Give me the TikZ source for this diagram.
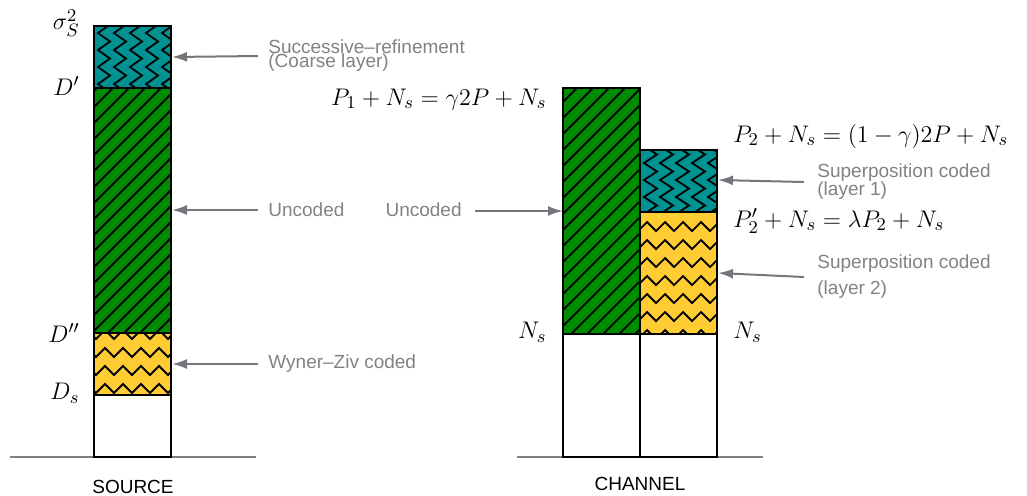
\documentclass[tikz,border=0pt]{standalone}
\usepackage{fontspec}
\newfontfamily\notefont{Liberation Sans}
\usetikzlibrary{arrows.meta}
\definecolor{hatchgreen}{RGB}{0,140,0}
\definecolor{layerteal}{RGB}{0,146,146}
\definecolor{layeryellow}{RGB}{255,204,51}
\definecolor{pointergray}{RGB}{120,116,124}
\definecolor{notegray}{RGB}{130,130,130}
\begin{document}
\begin{tikzpicture}[x=0.5pt,y=-0.5pt,
    note/.style={font=\notefont\fontsize{9.5}{9}\selectfont, text=notegray, align=left, inner sep=0pt},
    title/.style={font=\notefont\fontsize{9.5}{10}\selectfont, inner sep=0pt},
    lvl/.style={font=\fontsize{13.2}{15}\selectfont, inner sep=0pt},
    pointer/.style={pointergray, line width=1pt, -{Latex[length=7.5pt,width=5pt]}},
    bar/.style={line width=1.2pt},
    hatch/.style={line width=0.9pt},
    ground/.style={gray, line width=0.6pt}]
\useasboundingbox (0,0) rectangle (1027,495);

% ground lines
\draw[ground] (10,457) -- (256,457);
\draw[ground] (517,457) -- (763,457);

% source: coarse layer
\fill[layerteal] (94,26) rectangle (171,88);
\begin{scope}
  \clip (94,26) rectangle (171,88);
  \foreach \x in {110,126,...,190}
    \draw[hatch] (\x,7.5) \foreach \k in {1,...,6} { -- ++(-12,8.5) -- ++(12,8.5) };
\end{scope}
% source: uncoded part
\fill[hatchgreen] (94,88) rectangle (171,333);
\begin{scope}
  \clip (94,88) rectangle (171,333);
  \foreach \x in {97,113,...,430}
    \draw[hatch] (\x,88) -- ++(-260,260);
\end{scope}
% source: Wyner-Ziv part
\fill[layeryellow] (94,333) rectangle (171,395);
\begin{scope}
  \clip (94,333) rectangle (171,395);
  \foreach \y in {339,357,...,400}
    \draw[hatch] (78,\y) \foreach \k in {1,...,6} { -- ++(9,-9) -- ++(9,9) };
\end{scope}
\draw[bar] (94,26) rectangle (171,457);
\draw[bar] (94,88) -- (171,88);
\draw[bar] (94,333) -- (171,333);
\draw[bar] (94,395) -- (171,395);

% channel: first user
\fill[hatchgreen] (563,88) rectangle (640,334);
\begin{scope}
  \clip (563,88) rectangle (640,334);
  \foreach \x in {577,593,...,900}
    \draw[hatch] (\x,88) -- ++(-260,260);
\end{scope}
% channel: layer 1
\fill[layerteal] (640,150) rectangle (717,212);
\begin{scope}
  \clip (640,150) rectangle (717,212);
  \foreach \x in {657,673,...,730}
    \draw[hatch] (\x,137.5) \foreach \k in {1,...,5} { -- ++(-13,8.5) -- ++(13,8.5) };
\end{scope}
% channel: layer 2
\fill[layeryellow] (640,212) rectangle (717,334);
\begin{scope}
  \clip (640,212) rectangle (717,334);
  \foreach \y in {231,249,...,340}
    \draw[hatch] (620,\y) \foreach \k in {1,...,6} { -- ++(9,-9) -- ++(9,9) };
\end{scope}
\draw[bar] (563,88) rectangle (640,457);
\draw[bar] (640,150) rectangle (717,457);
\draw[bar] (563,334) -- (717,334);
\draw[bar] (640,212) -- (717,212);

% levels of the source
\node[lvl, anchor=east] (sigS) at (80,23) {$\sigma_S^2$};
\node[lvl, anchor=east] (dOne) at (80,86) {$D'$};
\node[lvl, anchor=east] (dTwo) at (80,333) {$D''$};
\node[lvl, anchor=east] (dS) at (80,393) {$D_s$};

% levels of the channel
\node[lvl, anchor=base east] (powOne) at (547,105) {$P_1+N_s=\gamma 2P+N_s$};
\node[lvl, anchor=base west] (powTwo) at (733,142) {$P_2+N_s=(1-\gamma)2P+N_s$};
\node[lvl, anchor=base west] (powLam) at (733,227) {$P_2'+N_s=\lambda P_2+N_s$};
\node[lvl, anchor=east] (nsLeft) at (547,332) {$N_s$};
\node[lvl, anchor=west] (nsRight) at (733,332) {$N_s$};

% notes and pointers
\coordinate (tipCoarse) at (172,57);
\coordinate (tipUncS) at (172,210);
\coordinate (tipWZ) at (172,364);
\coordinate (tipUncC) at (563,211);
\coordinate (tipLayOne) at (718,180);
\coordinate (tipLayTwo) at (718,273);

\node[note, anchor=west] (noteCoarse) at (268,56) {Successive\textendash refinement\\[-2pt](Coarse layer)};
\node[note, anchor=west] (noteUncS) at (268,210) {Uncoded};
\node[note, anchor=west] (noteWZ) at (268,364) {Wyner\textendash Ziv coded};
\node[note, anchor=east] (noteUncC) at (462,210) {Uncoded};
\node[note, anchor=west] (noteLayOne) at (817,182) {Superposition coded\\(layer 1)};
\node[note, anchor=west] (noteLayTwo) at (817,277) {Superposition coded\\[4pt](layer 2)};

\draw[pointer] ([xshift=-5pt]noteCoarse.west) -- (tipCoarse);
\draw[pointer] ([xshift=-5pt]noteUncS.west) -- (tipUncS);
\draw[pointer] ([xshift=-5pt]noteWZ.west) -- (tipWZ);
\draw[pointer] ([xshift=6.5pt,yshift=-0.5pt]noteUncC.east) -- (tipUncC);
\draw[pointer] ([xshift=-6.5pt]noteLayOne.west) -- (tipLayOne);
\draw[pointer] ([xshift=-6.5pt]noteLayTwo.west) -- (tipLayTwo);

% titles
\node[title, anchor=base] (srcTitle) at (133,493) {SOURCE};
\node[title, anchor=base] (chTitle) at (640,490) {CHANNEL};
\end{tikzpicture}
\end{document}
